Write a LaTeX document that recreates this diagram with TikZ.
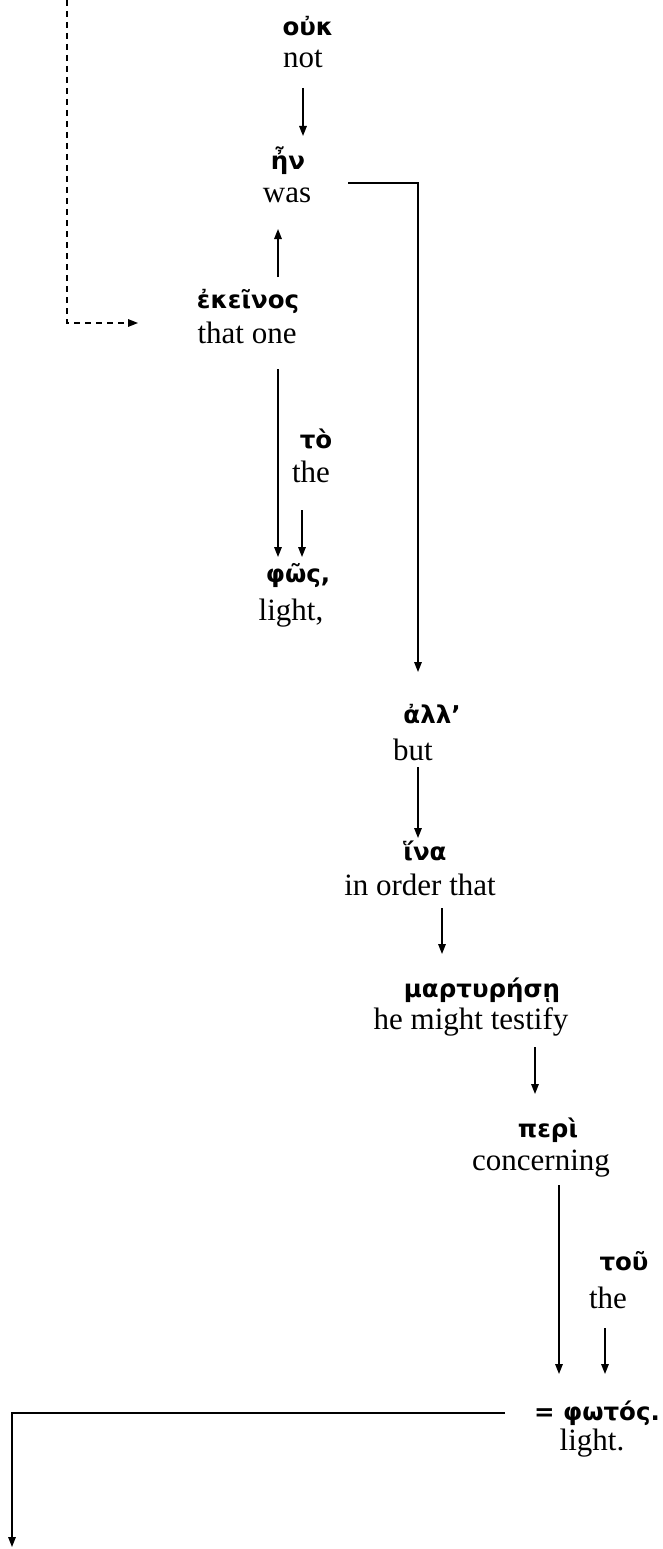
\documentclass[tikz,border=0pt]{standalone}
\usepackage{fontspec}
\setmainfont{Liberation Serif}
\newfontfamily\grk{DejaVu Sans}
\usetikzlibrary{arrows.meta}
\tikzset{
  gr/.style={inner sep=0pt, anchor=base, font=\grk\bfseries\fontsize{24.5}{28}\selectfont},
  en/.style={inner sep=0pt, anchor=base, font=\fontsize{31}{34}\selectfont},
  link/.style={line width=1.5pt},
  arr/.style={link, -{Triangle[length=10pt,width=7.5pt]}},
  darr/.style={arr, dash pattern=on 6pt off 5pt}
}
\begin{document}
\begin{tikzpicture}[x=1pt,y=-1pt]
\useasboundingbox (0,0) rectangle (663,1549);

% words: Greek above, English gloss below
\node[gr] (g1) at (308,36) {οὐκ};
\node[en] (e1) at (303,68) {not};
\node[gr] (g2) at (288,170) {ἦν};
\node[en] (e2) at (287,203) {was};
\node[gr] (g3) at (248,308) {ἐκεῖνος};
\node[en] (e3) at (247,343) {that one};
\node[gr] (g4) at (316,448) {τὸ};
\node[en] (e4) at (311,482) {the};
\node[gr] (g5) at (298,582) {φῶς,};
\node[en] (e5) at (291,620) {light,};
\node[gr] (g6) at (432,723) {ἀλλ’};
\node[en] (e6) at (413,760) {but};
\node[gr] (g7) at (425,860) {ἵνα};
\node[en] (e7) at (420,895) {in order that};
\node[gr] (g8) at (482,997) {μαρτυρήσῃ};
\node[en] (e8) at (471,1029) {he might testify};
\node[gr] (g9) at (548,1137) {περὶ};
\node[en] (e9) at (541,1170) {concerning};
\node[gr] (g10) at (624,1270) {τοῦ};
\node[en] (e10) at (608,1308) {the};
\node[gr] (g11) at (597,1420) {= φωτός.};
\node[en] (e11) at (592,1450) {light.};

% connector end points
\coordinate (dtop) at (67,0);
\coordinate (dbend) at (67,323);
\coordinate (dend) at (138,323);
\coordinate (a1s) at (303,88);
\coordinate (a1e) at (303,136);
\coordinate (a2s) at (278,277);
\coordinate (a2e) at (278,229);
\coordinate (b1s) at (348,183);
\coordinate (b1m) at (418,183);
\coordinate (b1e) at (418,672);
\coordinate (a3s) at (278,369);
\coordinate (a3e) at (278,557);
\coordinate (a4s) at (302,510);
\coordinate (a4e) at (302,557);
\coordinate (a5s) at (418,767);
\coordinate (a5e) at (418,838);
\coordinate (a6s) at (442,908);
\coordinate (a6e) at (442,954);
\coordinate (a7s) at (535,1047);
\coordinate (a7e) at (535,1094);
\coordinate (a8s) at (559,1185);
\coordinate (a8e) at (559,1374);
\coordinate (a9s) at (605,1328);
\coordinate (a9e) at (605,1374);
\coordinate (c1s) at (505,1413);
\coordinate (c1m) at (12,1413);
\coordinate (c1e) at (12,1547);

\draw[darr] (dtop) -- (dbend) -- (dend);
\draw[arr] (a1s) -- (a1e);
\draw[arr] (a2s) -- (a2e);
\draw[arr] (b1s) -- (b1m) -- (b1e);
\draw[arr] (a3s) -- (a3e);
\draw[arr] (a4s) -- (a4e);
\draw[arr] (a5s) -- (a5e);
\draw[arr] (a6s) -- (a6e);
\draw[arr] (a7s) -- (a7e);
\draw[arr] (a8s) -- (a8e);
\draw[arr] (a9s) -- (a9e);
\draw[arr] (c1s) -- (c1m) -- (c1e);
\end{tikzpicture}
\end{document}
